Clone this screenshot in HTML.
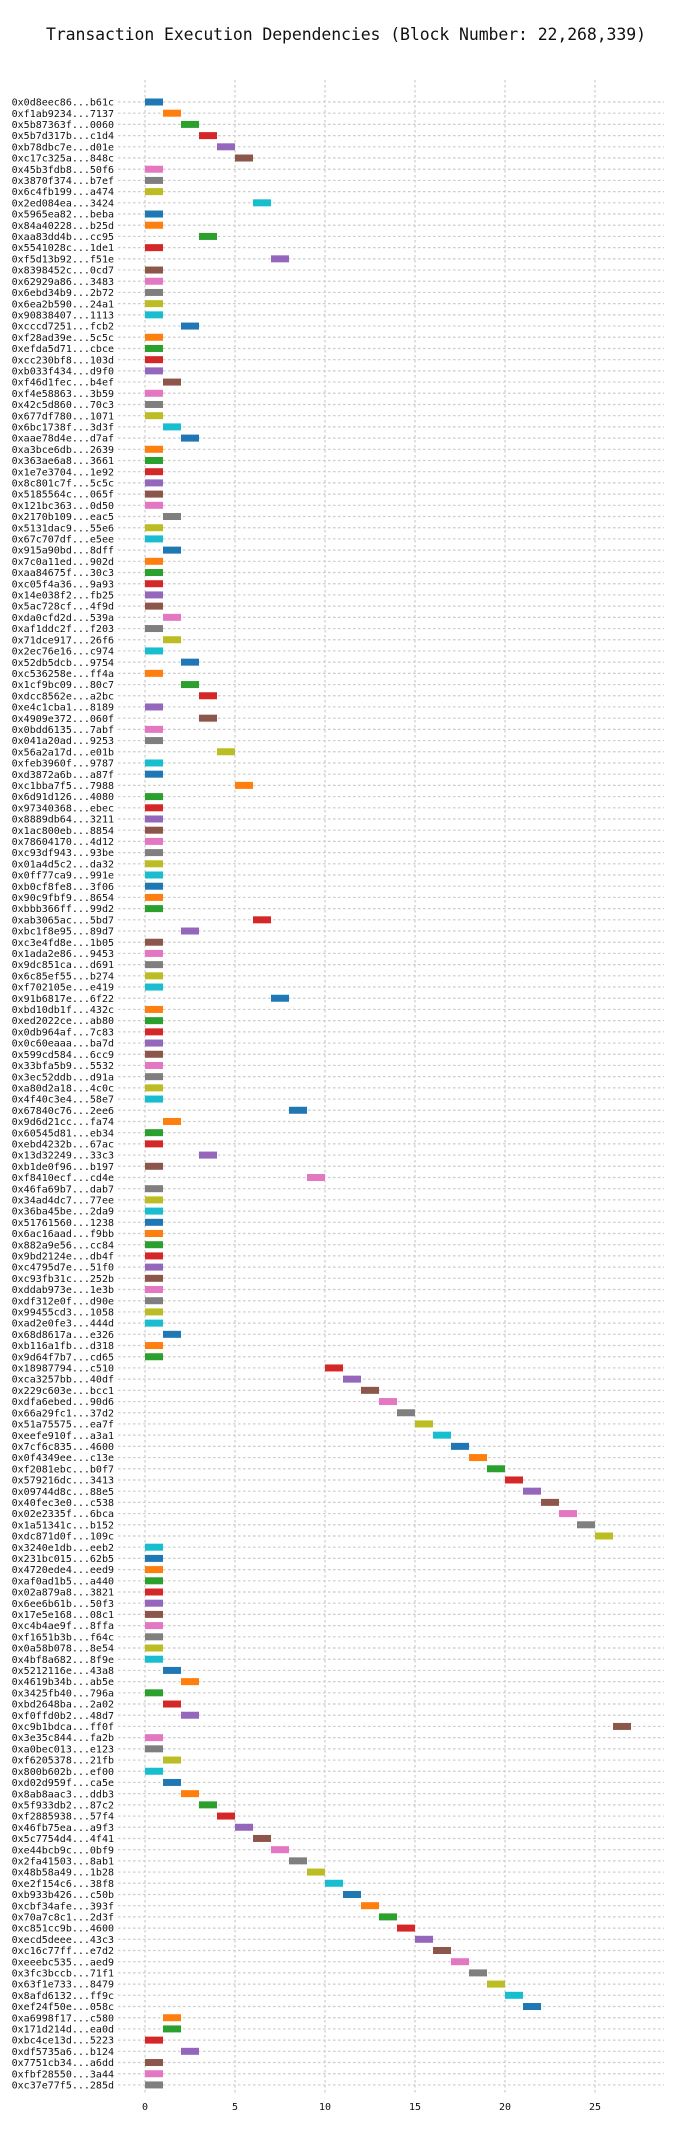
<!DOCTYPE html>
<html><head><meta charset="utf-8">
<style>
html,body{margin:0;padding:0;background:#fff;}
svg{display:block;}
text{font-family:"DejaVu Sans Mono","Liberation Mono",monospace;}
</style></head>
<body>
<svg id="chart" width="700" height="2136" viewBox="0 0 700 2136" xmlns="http://www.w3.org/2000/svg">
<text x="346" y="40" text-anchor="middle" font-size="16.5" textLength="600" fill="#111">Transaction Execution Dependencies (Block Number: 22,268,339)</text>
<g id="grid"></g>
<g id="bars"></g>
<g id="ylabels"></g>
<g id="xticks"></g>
</svg>
<script>
const txLabels = ["0x0d8eec86...b61c","0xf1ab9234...7137","0x5b87363f...0060","0x5b7d317b...c1d4","0xb78dbc7e...d01e","0xc17c325a...848c","0x45b3fdb8...50f6","0x3870f374...b7ef","0x6c4fb199...a474","0x2ed084ea...3424",
"0x5965ea82...beba","0x84a40228...b25d","0xaa83dd4b...cc95","0x5541028c...1de1","0xf5d13b92...f51e","0x8398452c...0cd7","0x62929a86...3483","0x6ebd34b9...2b72","0x6ea2b590...24a1","0x90838407...1113",
"0xcccd7251...fcb2","0xf28ad39e...5c5c","0xefda5d71...cbce","0xcc230bf8...103d","0xb033f434...d9f0","0xf46d1fec...b4ef","0xf4e58863...3b59","0x42c5d860...70c3","0x677df780...1071","0x6bc1738f...3d3f",
"0xaae78d4e...d7af","0xa3bce6db...2639","0x363ae6a8...3661","0x1e7e3704...1e92","0x8c801c7f...5c5c","0x5185564c...065f","0x121bc363...0d50","0x2170b109...eac5","0x5131dac9...55e6","0x67c707df...e5ee",
"0x915a90bd...8dff","0x7c0a11ed...902d","0xaa84675f...30c3","0xc05f4a36...9a93","0x14e038f2...fb25","0x5ac728cf...4f9d","0xda0cfd2d...539a","0xaf1ddc2f...f203","0x71dce917...26f6","0x2ec76e16...c974",
"0x52db5dcb...9754","0xc536258e...ff4a","0x1cf9bc09...80c7","0xdcc8562e...a2bc","0xe4c1cba1...8189","0x4909e372...060f","0x0bdd6135...7abf","0x041a20ad...9253","0x56a2a17d...e01b","0xfeb3960f...9787",
"0xd3872a6b...a87f","0xc1bba7f5...7988","0x6d91d126...4080","0x97340368...ebec","0x8889db64...3211","0x1ac800eb...8854","0x78604170...4d12","0xc93df943...93be","0x01a4d5c2...da32","0x0ff77ca9...991e",
"0xb0cf8fe8...3f06","0x90c9fbf9...8654","0xbbb366ff...99d2","0xab3065ac...5bd7","0xbc1f8e95...89d7","0xc3e4fd8e...1b05","0x1ada2e86...9453","0x9dc851ca...d691","0x6c85ef55...b274","0xf702105e...e419",
"0x91b6817e...6f22","0xbd10db1f...432c","0xed2022ce...ab80","0x0db964af...7c83","0x0c60eaaa...ba7d","0x599cd584...6cc9","0x33bfa5b9...5532","0x3ec52ddb...d91a","0xa80d2a18...4c0c","0x4f40c3e4...58e7",
"0x67840c76...2ee6","0x9d6d21cc...fa74","0x60545d81...eb34","0xebd4232b...67ac","0x13d32249...33c3","0xb1de0f96...b197","0xf8410ecf...cd4e","0x46fa69b7...dab7","0x34ad4dc7...77ee","0x36ba45be...2da9",
"0x51761560...1238","0x6ac16aad...f9bb","0x882a9e56...cc84","0x9bd2124e...db4f","0xc4795d7e...51f0","0xc93fb31c...252b","0xddab973e...1e3b","0xdf312e0f...d90e","0x99455cd3...1058","0xad2e0fe3...444d",
"0x68d8617a...e326","0xb116a1fb...d318","0x9d64f7b7...cd65","0x18987794...c510","0xca3257bb...40df","0x229c603e...bcc1","0xdfa6ebed...90d6","0x66a29fc1...37d2","0x51a75575...ea7f","0xeefe910f...a3a1",
"0x7cf6c835...4600","0x0f4349ee...c13e","0xf2081ebc...b0f7","0x579216dc...3413","0x09744d8c...88e5","0x40fec3e0...c538","0x02e2335f...6bca","0x1a51341c...b152","0xdc871d0f...109c","0x3240e1db...eeb2",
"0x231bc015...62b5","0x4720ede4...eed9","0xaf0ad1b5...a440","0x02a879a8...3821","0x6ee6b61b...50f3","0x17e5e168...08c1","0xc4b4ae9f...8ffa","0xf1651b3b...f64c","0x0a58b078...8e54","0x4bf8a682...8f9e",
"0x5212116e...43a8","0x4619b34b...ab5e","0x3425fb40...796a","0xbd2648ba...2a02","0xf0ffd0b2...48d7","0xc9b1bdca...ff0f","0x3e35c844...fa2b","0xa0bec013...e123","0xf6205378...21fb","0x800b602b...ef00",
"0xd02d959f...ca5e","0x8ab8aac3...ddb3","0x5f933db2...87c2","0xf2885938...57f4","0x46fb75ea...a9f3","0x5c7754d4...4f41","0xe44bcb9c...0bf9","0x2fa41503...8ab1","0x48b58a49...1b28","0xe2f154c6...38f8",
"0xb933b426...c50b","0xcbf34afe...393f","0x70a7c8c1...2d3f","0xc851cc9b...4600","0xecd5deee...43c3","0xc16c77ff...e7d2","0xeeebc535...aed9","0x3fc3bccb...71f1","0x63f1e733...8479","0x8afd6132...ff9c",
"0xef24f50e...058c","0xa6998f17...c580","0x171d214d...ea0d","0xbc4ce13d...5223","0xdf5735a6...b124","0x7751cb34...a6dd","0xfbf28550...3a44","0xc37e77f5...285d"];
const startTimes = [0,1,2,3,4,5,0,0,0,6, 0,0,3,0,7,0,0,0,0,0, 2,0,0,0,0,1,0,0,0,1,
2,0,0,0,0,0,0,1,0,0, 1,0,0,0,0,0,1,0,1,0, 2,0,2,3,0,3,0,0,4,0,
0,5,0,0,0,0,0,0,0,0, 0,0,0,6,2,0,0,0,0,0, 7,0,0,0,0,0,0,0,0,0,
8,1,0,0,3,0,9,0,0,0, 0,0,0,0,0,0,0,0,0,0, 1,0,0,10,11,12,13,14,15,16,
17,18,19,20,21,22,23,24,25,0, 0,0,0,0,0,0,0,0,0,0, 1,2,0,1,2,26,0,0,1,0,
1,2,3,4,5,6,7,8,9,10, 11,12,13,14,15,16,17,18,19,20, 21,1,1,0,2,0,0,0];
const durations = startTimes.map(() => 1);
const xTicks = [0,5,10,15,20,25];
const palette = ["#1f77b4","#ff7f0e","#2ca02c","#d62728","#9467bd","#8c564b","#e377c2","#7f7f7f","#bcbd22","#17becf"];

const NS = "http://www.w3.org/2000/svg";
const X0 = 145, PXU = 18, Y0 = 102, ROWH = 11.203;
const xScale = v => X0 + v * PXU;
const yScale = i => Y0 + i * ROWH;
function mk(tag, attrs, parent){ const e=document.createElementNS(NS,tag); for(const k in attrs) e.setAttribute(k,attrs[k]); parent.appendChild(e); return e; }
const grid=document.getElementById('grid'), bars=document.getElementById('bars'), yl=document.getElementById('ylabels'), xt=document.getElementById('xticks');

xTicks.forEach(t=>{
  const l=mk('line',{x1:xScale(t),x2:xScale(t),y1:80,y2:2093,stroke:'#cccccc','stroke-width':1.2,'stroke-dasharray':'2.5,2.5'},grid);
  
  
  const tx=mk('text',{x:xScale(t),y:2110,'text-anchor':'middle','font-size':10,fill:'#111'},xt);
  tx.textContent=String(t);
  
  
});
txLabels.forEach((lab,i)=>{
  const y=yScale(i);
  const g=mk('line',{x1:118,x2:664,y1:y,y2:y,stroke:'#cccccc','stroke-width':1.2,'stroke-dasharray':'2.5,2.5'},grid);
  
  
  const t=mk('text',{x:114,y:y+3.6,'text-anchor':'end','font-size':10,fill:'#111'},yl);
  t.textContent=lab;
  
  
  const r=mk('rect',{x:xScale(startTimes[i]),y:y-3.5,width:durations[i]*PXU,height:7,fill:palette[i%10]},bars);
  
  
});
</script>
</body></html>
